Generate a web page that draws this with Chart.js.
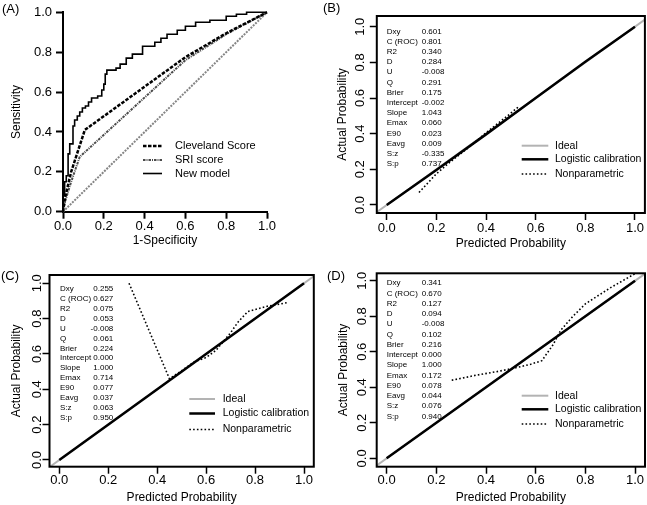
<!DOCTYPE html>
<html><head><meta charset="utf-8">
<script src="https://cdn.jsdelivr.net/npm/chart.js@4.4.1/dist/chart.umd.min.js"></script>
<style>
html,body{margin:0;padding:0;background:#fff;}
body{width:647px;height:505px;position:relative;overflow:hidden;font-family:"Liberation Sans",Arial,Helvetica,sans-serif;color:#000;}
canvas{position:absolute;}
.plab{position:absolute;font-size:13px;line-height:13px;white-space:nowrap;}
.st{position:absolute;font-size:8px;line-height:10px;white-space:nowrap;}
</style></head><body>
<canvas id="cA" width="320" height="250" style="left:0;top:0"></canvas>
<canvas id="cB" width="327" height="250" style="left:320px;top:0"></canvas>
<canvas id="cC" width="320" height="255" style="left:0;top:250px"></canvas>
<canvas id="cD" width="327" height="255" style="left:320px;top:250px"></canvas>
<div class="plab" style="left:2px;top:1.5px">(A)</div>
<div class="plab" style="left:323px;top:1px">(B)</div>
<div class="plab" style="left:1px;top:268.5px">(C)</div>
<div class="plab" style="left:327px;top:269px">(D)</div>
<script>
// ---------- data ----------
const tickValues = [0, 0.2, 0.4, 0.6, 0.8, 1.0];
const rocNewModel = [[0,0],[0,0.08],[0.008,0.08],[0.008,0.15],[0.016,0.15],[0.016,0.18],[0.025,0.18],[0.025,0.29],
  [0.033,0.29],[0.033,0.34],[0.049,0.34],[0.049,0.43],[0.057,0.43],[0.057,0.46],[0.070,0.46],[0.070,0.48],
  [0.082,0.48],[0.082,0.50],[0.095,0.50],[0.095,0.52],[0.110,0.52],[0.110,0.53],[0.125,0.53],[0.125,0.55],
  [0.140,0.55],[0.140,0.57],[0.170,0.57],[0.170,0.58],[0.190,0.58],[0.190,0.61],[0.200,0.61],[0.200,0.64],
  [0.207,0.64],[0.207,0.69],[0.215,0.69],[0.215,0.71],[0.260,0.71],[0.260,0.72],[0.280,0.72],[0.280,0.74],
  [0.310,0.74],[0.310,0.77],[0.340,0.77],[0.340,0.79],[0.390,0.79],[0.390,0.83],[0.450,0.83],[0.450,0.85],
  [0.480,0.85],[0.480,0.87],[0.510,0.87],[0.510,0.89],[0.560,0.89],[0.560,0.91],[0.600,0.91],[0.600,0.93],
  [0.650,0.93],[0.650,0.95],[0.720,0.95],[0.720,0.96],[0.800,0.96],[0.800,0.98],[0.850,0.98],[0.850,0.99],
  [0.900,0.99],[0.900,1.00],[1.000,1.00]];
const rocCleveland = [[0,0],[0.01,0.07],[0.04,0.2],[0.107,0.41],[0.6,0.775],[0.8,0.895],[1,1]];
const rocSRI = [[0,0],[0.01,0.05],[0.04,0.15],[0.082,0.275],[0.6,0.76],[0.8,0.89],[1,1]];
const rocChance = [[0,0],[1,1]];
const idealLine = [[-0.1,-0.1],[1.1,1.1]];
const logisticB = [[0,0],[0.2,0.196],[0.4,0.396],[0.6,0.6],[0.8,0.803],[1,1]];
const nonparB = [[0.13,0.07],[0.2,0.175],[0.25,0.235],[0.3,0.29],[0.35,0.345],[0.4,0.405],[0.45,0.46],[0.5,0.515],[0.53,0.55]];
const logisticC = [[0,0],[1,1]];
const nonparC = [[0.285,1.0],[0.45,0.46],[0.5,0.505],[0.55,0.555],[0.6,0.58],[0.64,0.62],[0.67,0.67],[0.70,0.72],[0.73,0.78],[0.77,0.84],[0.85,0.87],[0.93,0.89]];
const logisticD = [[0,0],[1,1]];
const nonparD = [[0.262,0.44],[0.36,0.468],[0.45,0.49],[0.52,0.51],[0.58,0.53],[0.625,0.55],[0.67,0.64],[0.70,0.72],[0.75,0.80],[0.8,0.87],[0.9,0.96],[1.0,1.04]];
const statNames = ['Dxy','C (ROC)','R2','D','U','Q','Brier','Intercept','Slope','Emax','E90','Eavg','S:z','S:p'];
const statsB = ['0.601','0.801','0.340','0.284','-0.008','0.291','0.175','-0.002','1.043','0.060','0.023','0.009','-0.335','0.737'];
const statsC = ['0.255','0.627','0.075','0.053','-0.008','0.061','0.224','0.000','1.000','0.714','0.077','0.037','0.063','0.950'];
const statsD = ['0.341','0.670','0.127','0.094','-0.008','0.102','0.216','0.000','1.000','0.172','0.078','0.044','0.076','0.940'];

// ---------- helpers ----------
const FONT = '"Liberation Sans", Arial, Helvetica, sans-serif';
Chart.defaults.font.family = FONT;
Chart.defaults.color = '#000';
function pts(a){ return a.map(p => ({x:p[0], y:p[1]})); }

function xAxis(c){ return {
  type:'linear', position:'bottom', min:c.min, max:c.max, bounds:'data',
  afterBuildTicks: s => { s.ticks = tickValues.map(v => ({value:v})); },
  afterFit: s => { s.height = c.h; },
  ticks:{ autoSkip:false, minRotation:0, maxRotation:0, padding:c.tp, color:'#000',
          font:{size:13, lineHeight:1.2}, callback: v => Number(v).toFixed(1) },
  grid:{ drawOnChartArea:false, drawTicks:true, tickLength:7, tickWidth:c.tw, tickColor:'#000' },
  border:{ display:c.border, color:'#000', width:2 },
  title:{ display:true, text:c.title, color:'#000', font:{size:12, lineHeight:1}, padding:{top:0, bottom:c.pb} }
};}
function yAxis(c){ return {
  type:'linear', position:'left', min:c.min, max:c.max, bounds:'data',
  afterBuildTicks: s => { s.ticks = tickValues.map(v => ({value:v})); },
  afterFit: s => { s.width = c.w; },
  ticks:{ autoSkip:false, minRotation:c.rot, maxRotation:c.rot, crossAlign:c.rot ? 'center' : 'near',
          padding:c.tp, color:'#000', font:{size:13, lineHeight:1.2}, callback: v => Number(v).toFixed(1) },
  grid:{ drawOnChartArea:false, drawTicks:true, tickLength:7, tickWidth:c.tw, tickColor:'#000' },
  border:{ display:c.border, color:'#000', width:2 },
  title:{ display:true, text:c.title, color:'#000', font:{size:12, lineHeight:1}, padding:{top:c.pt, bottom:0} }
};}
const framePlugin = { id:'frame', afterDatasetsDraw(chart){
  const a = chart.chartArea, ctx = chart.ctx;
  ctx.save(); ctx.strokeStyle = '#000'; ctx.lineWidth = 2;
  ctx.strokeRect(a.left, a.top, a.right - a.left, a.bottom - a.top); ctx.restore();
}};
function keyPlugin(k){ return { id:'key', afterDatasetsDraw(chart){
  const ctx = chart.ctx; ctx.save();
  k.order.forEach((di, i) => {
    const ds = chart.data.datasets[di]; const y = k.ys[i];
    ctx.beginPath(); ctx.strokeStyle = ds.borderColor; ctx.lineWidth = ds.borderWidth;
    ctx.setLineDash(ds.borderDash || []); ctx.moveTo(k.x1, y); ctx.lineTo(k.x2, y); ctx.stroke();
    ctx.setLineDash([]); ctx.fillStyle = '#000'; ctx.font = k.size + 'px ' + FONT;
    ctx.textAlign = 'left'; ctx.textBaseline = 'middle'; ctx.fillText(ds.label, k.tx, y);
  });
  ctx.restore();
}};}
// drawOrder: higher numbers are drawn first (underneath)
function ds(label, data, color, width, dash, clip, drawOrder){
  const d = { label, data: pts(data), showLine:true, pointRadius:0, borderColor:color, backgroundColor:color,
           borderWidth:width, borderDash:dash, fill:false, tension:0, order: drawOrder };
  if (clip !== undefined) d.clip = clip;
  return d;
}
function baseOpts(pad, scales){
  return { responsive:false, animation:false, devicePixelRatio:1, events:[],
    layout:{ padding: pad }, scales,
    plugins:{ legend:{display:false}, tooltip:{enabled:false} } };
}

// ---------- Panel A ----------
new Chart(document.getElementById('cA'), {
  type:'scatter',
  data:{ datasets:[
    ds('Chance', rocChance, '#858585', 2, [2,1.2], false, 4),
    ds('SRI score', rocSRI, '#4a4a4a', 2, [2.5,1,1,1], false, 3),
    ds('Cleveland Score', rocCleveland, '#000', 2.5, [3.5,1.5], false, 2),
    ds('New model', rocNewModel, '#000', 1.6, [], false, 1)
  ]},
  options: baseOpts({top:12.3, right:53, left:0, bottom:0}, {
    x: xAxis({min:0, max:1, h:38.3, tp:0.2, tw:2, border:true, title:'1-Specificity', pb:3}),
    y: yAxis({min:0, max:1, w:63, rot:0, tp:4, tw:2, border:true, title:'Sensitivity', pt:10.7})
  }),
  plugins:[ keyPlugin({order:[2,1,3], x1:143, x2:162, tx:175, ys:[146,160,173.5], size:11}) ]
});

// ---------- calibration panels ----------
function calPanel(id, logi, nonp, pad, xc, yc, key){
  new Chart(document.getElementById(id), {
    type:'scatter',
    data:{ datasets:[
      ds('Ideal', idealLine, '#b3b3b3', 2, [], undefined, 3),
      ds('Logistic calibration', logi, '#000', 2.5, [], undefined, 2),
      ds('Nonparametric', nonp, '#000', 1.6, [1.6,2.2], undefined, 1)
    ]},
    options: baseOpts(pad, {
      x: xAxis(Object.assign({tw:1.5, border:false, title:'Predicted Probability'}, xc)),
      y: yAxis(Object.assign({rot:90, tw:1.5, border:false, title:'Actual Probability'}, yc))
    }),
    plugins:[ framePlugin, keyPlugin(key) ]
  });
}
calPanel('cB', logisticB, nonparB, {top:16, right:2.1, left:0, bottom:0},
  {min:-0.04, max:1.04, h:37, tp:0.5, pb:0.5},
  {min:-0.045, max:1.06, w:56.8, tp:0, pt:17},
  {order:[0,1,2], x1:201.7, x2:228.3, tx:235, ys:[145.7,159.3,174], size:10.5});
calPanel('cC', logisticC, nonparC, {top:25, right:6.2, left:0, bottom:0},
  {min:-0.04, max:1.04, h:38.3, tp:-1.5, pb:1.5},
  {min:-0.038, max:1.047, w:49.5, tp:-3.5, pt:10.7},
  {order:[0,1,2], x1:189.3, x2:215, tx:222.7, ys:[149,163.5,179.5], size:10.5});
calPanel('cD', logisticD, nonparD, {top:23.3, right:2, left:0, bottom:0},
  {min:-0.04, max:1.04, h:38.3, tp:-1.5, pb:1.5},
  {min:-0.047, max:1.042, w:56.7, tp:-2, pt:18},
  {order:[0,1,2], x1:201.7, x2:228.3, tx:235, ys:[145.7,159.3,174], size:10.5});

// ---------- stats tables ----------
function statsTable(vals, lx, vx, rightAlign, y0, dy){
  statNames.forEach((n, i) => {
    const top = (y0 + i*dy - 5) + 'px';
    const a = document.createElement('div'); a.className = 'st'; a.textContent = n;
    a.style.left = lx + 'px'; a.style.top = top; document.body.appendChild(a);
    const b = document.createElement('div'); b.className = 'st'; b.textContent = vals[i];
    b.style.top = top; b.style.left = vx + 'px';
    if (rightAlign) b.style.transform = 'translateX(-100%)';
    document.body.appendChild(b);
  });
}
statsTable(statsB, 386.7, 421.7, false, 31.7, 10.18);
statsTable(statsC, 60, 113.3, true, 289.3, 9.88);
statsTable(statsD, 386.7, 421.7, false, 283.3, 10.26);
</script>
</body></html>
